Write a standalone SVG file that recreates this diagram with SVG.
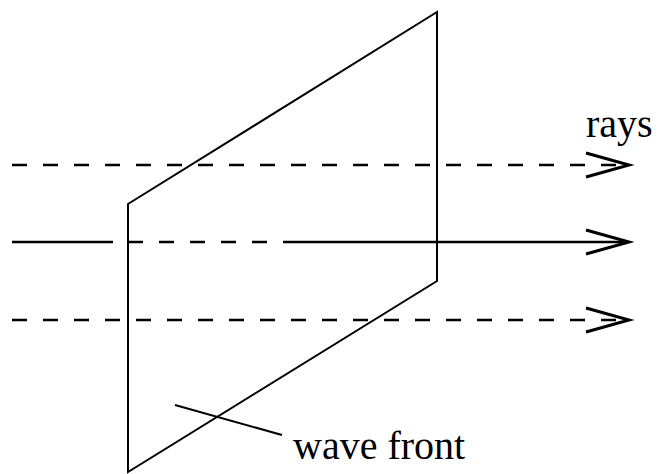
<svg xmlns="http://www.w3.org/2000/svg" width="670" height="474" viewBox="0 0 670 474">
<style>
.ray{stroke:#000;stroke-width:2.5;fill:none}
.dash{stroke-dasharray:15 16}
.plane{stroke:#000;stroke-width:2;fill:none;stroke-linejoin:miter}
.head{stroke:#000;stroke-width:3;fill:none;stroke-linejoin:miter}
.lbl{font-family:"Liberation Serif","Times New Roman",serif;font-size:40px;fill:#000}
</style>
<rect width="670" height="474" fill="#fff"/>
<g id="wavefront">
<polygon class="plane" points="128,204 437,12 437,281 128,472"/>
</g>
<g id="connectors">
<line class="ray dash" x1="12" y1="165" x2="628" y2="165"/>
<path class="head" d="M586,153 L629,165 L586,177"/>
<line class="ray" x1="12" y1="242" x2="113" y2="242"/>
<line class="ray dash" x1="128" y1="242" x2="270" y2="242"/>
<line class="ray" x1="283" y1="242" x2="628" y2="242"/>
<path class="head" d="M586,230 L629,242 L586,254"/>
<line class="ray dash" x1="12" y1="320" x2="628" y2="320"/>
<path class="head" d="M586,308 L629,320 L586,332"/>
<line stroke="#000" stroke-width="2" x1="175" y1="405" x2="282" y2="435"/>
</g>
<g id="label-rays">
<text class="lbl" x="586" y="137">rays</text>
</g>
<g id="label-wavefront">
<text class="lbl" x="293" y="459">wave front</text>
</g>
</svg>
